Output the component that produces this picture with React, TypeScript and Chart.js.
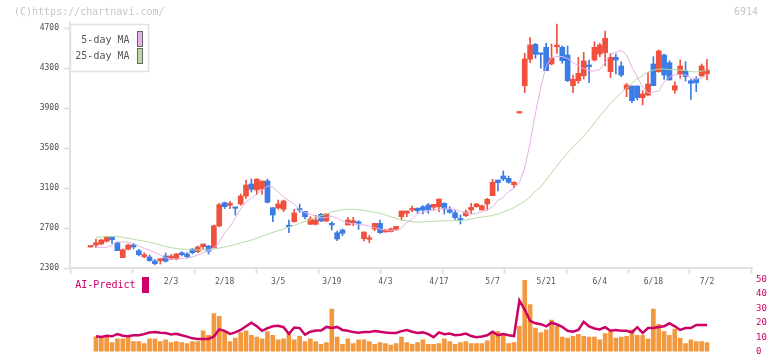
import { useEffect, useRef } from "react";
import { Chart, registerables } from "chart.js";

Chart.register(...registerables);

// Daily prices, one entry per trading day (index 0 = first session shown)
const opens = [
  2510, 2530, 2540, 2567, 2610, 2553, 2403, 2487, 2530, 2473,
  2413, 2410, 2370, 2373, 2420, 2390, 2393, 2453, 2440, 2490,
  2463, 2513, 2520, 2503, 2720, 2953, 2927, 2903, 2940, 3020,
  3140, 3080, 3090, 3170, 2903, 2900, 2887, 2720, 2763, 2893,
  2867, 2737, 2737, 2837, 2770, 2747, 2653, 2680, 2730, 2753,
  2753, 2593, 2587, 2690, 2747, 2660, 2663, 2680, 2813, 2847,
  2880, 2897, 2913, 2930, 2907, 2913, 2947, 2880, 2853, 2790,
  2823, 2880, 2913, 2880, 2940, 3023, 3180, 3220, 3197, 3133,
  3850, 4123, 4387, 4537, 4447, 4507, 4340, 4513, 4507, 4430,
  4123, 4173, 4223, 4330, 4380, 4440, 4453, 4263, 4407, 4320,
  4090, 4120, 4120, 4003, 4030, 4340, 4263, 4430, 4353, 4080,
  4240, 4273, 4173, 4187, 4220, 4240,
];
const highs = [
  2520, 2590, 2587, 2617, 2613, 2553, 2490, 2540, 2547, 2487,
  2453, 2430, 2387, 2393, 2450, 2433, 2447, 2463, 2453, 2493,
  2520, 2540, 2527, 2730, 2947, 2960, 2967, 2907, 3040, 3180,
  3190, 3190, 3170, 3190, 2903, 2980, 2980, 2780, 2887, 2940,
  2867, 2813, 2827, 2847, 2843, 2763, 2670, 2690, 2807, 2807,
  2773, 2660, 2627, 2747, 2780, 2690, 2700, 2717, 2870, 2870,
  2920, 2903, 2923, 2947, 2937, 2990, 2953, 2913, 2873, 2830,
  2880, 2947, 2947, 2930, 2997, 3187, 3180, 3270, 3220, 3163,
  3860, 4447, 4603, 4547, 4447, 4547, 4540, 4740, 4520, 4520,
  4230, 4407, 4457, 4380, 4563, 4547, 4670, 4447, 4440, 4363,
  4147, 4120, 4120, 4073, 4253, 4413, 4480, 4440, 4373, 4163,
  4380, 4363, 4187, 4213, 4340, 4387,
];
const lows = [
  2510, 2507, 2533, 2560, 2547, 2473, 2403, 2480, 2490, 2420,
  2400, 2367, 2330, 2340, 2360, 2383, 2380, 2420, 2400, 2440,
  2453, 2487, 2440, 2500, 2713, 2893, 2893, 2830, 2927, 2997,
  3060, 3033, 3037, 2950, 2763, 2887, 2863, 2653, 2757, 2857,
  2790, 2737, 2730, 2763, 2763, 2680, 2573, 2623, 2730, 2723,
  2687, 2570, 2553, 2673, 2647, 2660, 2660, 2680, 2780, 2813,
  2863, 2847, 2840, 2847, 2880, 2863, 2840, 2847, 2787, 2740,
  2813, 2840, 2907, 2880, 2880, 3023, 3070, 3173, 3147, 3103,
  3850, 4053, 4353, 4397, 4297, 4273, 4330, 4447, 4347, 4163,
  4053, 4147, 4190, 4153, 4370, 4413, 4320, 4203, 4240, 4213,
  4013, 3953, 3980, 3930, 4020, 4123, 4257, 4187, 4180, 4047,
  4197, 4170, 3987, 4063, 4220, 4180,
];
const closes = [
  2520, 2553, 2580, 2610, 2583, 2473, 2483, 2530, 2510, 2433,
  2433, 2373, 2343, 2393, 2367, 2420, 2440, 2433, 2413, 2453,
  2510, 2540, 2467, 2723, 2933, 2913, 2947, 2897, 3020, 3130,
  3087, 3190, 3170, 2957, 2830, 2940, 2970, 2713, 2850, 2880,
  2813, 2790, 2780, 2770, 2843, 2730, 2590, 2647, 2780, 2773,
  2747, 2660, 2597, 2747, 2653, 2680, 2690, 2717, 2870, 2870,
  2887, 2873, 2880, 2880, 2937, 2990, 2890, 2857, 2803, 2780,
  2860, 2907, 2940, 2923, 2987, 3157, 3153, 3190, 3157, 3157,
  3860, 4390, 4530, 4437, 4437, 4273, 4400, 4520, 4373, 4173,
  4187, 4247, 4370, 4313, 4507, 4530, 4597, 4407, 4380, 4230,
  4130, 3973, 4003, 4040, 4140, 4123, 4470, 4230, 4180, 4123,
  4320, 4213, 4147, 4153, 4320, 4280,
];

// Moving averages as plotted
const ma5 = [
  null,
  2507, 2507, 2507, 2530, 2563, 2560, 2557, 2545, 2520, 2497,
  2477, 2457, 2427, 2403, 2393, 2390, 2393, 2400, 2410, 2430,
  2453, 2470, 2500, 2560, 2650, 2713, 2800, 2890, 2960, 3000,
  3040, 3080, 3120, 3110, 3060, 3010, 2975, 2940, 2880, 2855,
  2840, 2815, 2800, 2805, 2815, 2800, 2770, 2750, 2740, 2735,
  2730, 2720, 2705, 2690, 2680, 2673, 2680, 2700, 2755, 2790,
  2840, 2860, 2875, 2880, 2885, 2900, 2895, 2885, 2865, 2850,
  2840, 2845, 2860, 2880, 2913, 2975, 3010, 3063, 3100, 3155,
  3300, 3550, 3850, 4110, 4320, 4405, 4415, 4415, 4395, 4355,
  4320, 4295, 4275, 4270, 4285, 4353, 4440, 4455, 4475, 4430,
  4310, 4210, 4110, 4050, 4060, 4070, 4160, 4210, 4235, 4230,
  4230, 4200, 4190, 4200, 4230,
];
const ma25 = [
  null,
  2607, 2610, 2613, 2615, 2617, 2607, 2597, 2587, 2577, 2568,
  2558, 2545, 2530, 2513, 2503, 2495, 2490, 2486, 2482, 2480,
  2480, 2482, 2490, 2500, 2510, 2522, 2535, 2550, 2565, 2580,
  2597, 2620, 2637, 2655, 2673, 2690, 2710, 2727, 2747, 2767,
  2783, 2805, 2823, 2840, 2860, 2873, 2882, 2887, 2887, 2882,
  2875, 2866, 2857, 2847, 2830, 2813, 2797, 2780, 2770, 2763,
  2760, 2762, 2765, 2767, 2770, 2772, 2773, 2773, 2773, 2780,
  2790, 2800, 2810, 2817, 2825, 2840, 2860, 2880, 2905, 2935,
  2970, 3010, 3070, 3110, 3180, 3250, 3320, 3390, 3450, 3510,
  3560, 3620, 3680, 3750, 3820, 3880, 3950, 4000, 4050, 4100,
  4150, 4190, 4225, 4260, 4280, 4290, 4290, 4285, 4283, 4280,
  4275, 4265, 4260, 4270, 4275,
];

// Lower panel: traded volume and AI-Predict score (0-50 scale)
const volumes = [
  null,
  10.2, 9.6, 10.4, 6.3, 8.8, 8.8, 10.0, 6.9, 6.9, 5.6,
  8.8, 8.8, 6.9, 8.1, 6.3, 6.9, 6.3, 5.6, 6.9, 6.9,
  14.4, 11.3, 26.3, 24.4, 13.8, 6.9, 9.4, 13.1, 14.4, 11.3,
  10.0, 8.8, 13.8, 11.3, 8.1, 8.8, 12.5, 8.1, 10.6, 6.9,
  8.8, 6.9, 5.0, 6.3, 29.4, 10.0, 5.0, 8.8, 5.6, 8.1,
  8.1, 6.9, 5.0, 6.3, 5.6, 4.6, 5.6, 10.0, 6.3, 5.0,
  6.3, 8.1, 5.0, 5.0, 5.6, 8.8, 6.9, 5.0, 6.3, 6.9,
  5.6, 5.6, 5.6, 7.5, 13.3, 13.8, 11.3, 5.6, 6.3, 17.5,
  49.4, 32.5, 16.3, 13.1, 15.0, 21.9, 17.5, 10.0, 9.4, 10.6,
  11.9, 10.6, 10.0, 10.0, 8.1, 12.5, 13.8, 9.4, 10.0, 10.6,
  15.0, 11.3, 11.3, 8.8, 29.4, 18.8, 13.8, 11.3, 15.6, 9.4,
  5.6, 8.1, 6.9, 6.9, 6.3,
];
const aiPredict = [
  null,
  10.6, 10.2, 11.0, 10.6, 12.1, 11.0, 10.6, 11.3, 11.3, 12.1,
  13.3, 13.5, 13.1, 12.9, 11.9, 12.3, 11.3, 10.4, 9.2, 8.8,
  8.8, 8.8, 10.4, 15.4, 14.4, 12.3, 13.3, 15.0, 17.5, 20.0,
  17.5, 14.4, 16.3, 17.5, 17.9, 16.9, 12.3, 16.7, 16.3, 11.7,
  13.8, 14.6, 14.6, 17.1, 16.3, 17.1, 15.0, 14.4, 13.5, 13.1,
  13.5, 13.5, 14.2, 13.8, 13.3, 12.9, 12.9, 14.2, 15.0, 13.8,
  12.9, 13.3, 12.1, 10.0, 13.3, 12.1, 12.5, 11.3, 11.7, 12.5,
  10.8, 10.0, 10.4, 11.3, 13.8, 11.3, 12.1, 11.3, 10.8, 35.4,
  29.0, 21.3, 19.6, 19.0, 17.5, 20.0, 18.8, 17.1, 14.4, 13.8,
  15.0, 20.6, 17.5, 16.0, 15.4, 16.9, 14.4, 15.0, 14.4, 14.4,
  13.3, 16.9, 12.9, 16.3, 16.3, 17.1, 17.5, 19.6, 17.5, 15.0,
  16.3, 16.3, 18.5, 18.5, 18.5,
];

// Axis labelling
const dateLabels = ["2/3", "2/18", "3/5", "3/19", "4/3", "4/17", "5/7", "5/21", "6/4", "6/18", "7/2"];
const dateLabelIndex = [15, 25, 35, 45, 55, 65, 75, 85, 95, 105, 115];
const priceTicks = [2300, 2700, 3100, 3500, 3900, 4300, 4700];
const aiTicks = [0, 10, 20, 30, 40, 50];

const X_MIN = -3.843;
const X_MAX = 123.4;
const PRICE_MIN = 2300;
const PRICE_MAX = 4750;

const UP = "#f0503c";
const DOWN = "#3c7ce6";
const MA5_COLOR = "#e6b0e8";
const MA25_COLOR = "#b4dba4";
const AI_COLOR = "#cc0066";
const VOL_COLOR = "#f2983f";
const AXIS_COLOR = "#e2e2e2";
const MONO = "'DejaVu Sans Mono', monospace";

const points = (arr: (number | null)[]) =>
  arr.map((v, i) => ({ x: i, y: v })).filter((p) => p.y !== null);

const overlayMain = {
  id: "overlayMain",
  afterDraw(chart: any) {
    const ctx = chart.ctx;
    ctx.save();
    ctx.font = `10px ${MONO}`;
    ctx.textBaseline = "middle";
    ctx.fillStyle = "#c6c6c6";
    ctx.textAlign = "left";
    ctx.fillText("(C)https://chartnavi.com/", 14, 12);
    ctx.textAlign = "right";
    ctx.fillText("6914", 758, 12);

    // legend box
    ctx.fillStyle = "#ffffff";
    ctx.fillRect(70, 24, 78, 47);
    ctx.strokeStyle = AXIS_COLOR;
    ctx.lineWidth = 1.5;
    ctx.strokeRect(70.5, 24.5, 78, 47);

    ctx.fillStyle = "#555555";
    ctx.textAlign = "right";
    ctx.fillText("5-day MA", 129.5, 40.5);
    ctx.fillText("25-day MA", 129.5, 56.5);

    ctx.lineWidth = 1;
    ctx.strokeStyle = "#666666";
    ctx.fillStyle = MA5_COLOR;
    ctx.fillRect(137.5, 31.5, 5, 15);
    ctx.strokeRect(137.5, 31.5, 5, 15);
    ctx.fillStyle = MA25_COLOR;
    ctx.fillRect(137.5, 48.5, 5, 15);
    ctx.strokeRect(137.5, 48.5, 5, 15);
    ctx.restore();
  },
};

const overlaySub = {
  id: "overlaySub",
  afterDraw(chart: any) {
    const ctx = chart.ctx;
    ctx.save();
    ctx.font = `10px ${MONO}`;
    ctx.textBaseline = "middle";
    ctx.textAlign = "right";
    ctx.fillStyle = AI_COLOR;
    ctx.fillText("AI-Predict", 135.5, 15);
    ctx.fillRect(142, 7, 7, 16);
    ctx.restore();
  },
};

export default function App() {
  const mainRef = useRef<HTMLCanvasElement>(null);
  const subRef = useRef<HTMLCanvasElement>(null);

  useEffect(() => {
    const idx = closes.map((_, i) => i);
    const candleColors = idx.map((i) => (closes[i] >= opens[i] ? UP : DOWN));

    const main = new Chart(mainRef.current as HTMLCanvasElement, {
      type: "bar",
      data: {
        datasets: [
          {
            type: "line",
            label: "5-day MA",
            data: points(ma5),
            borderColor: MA5_COLOR,
            borderWidth: 1,
            pointRadius: 0,
            tension: 0,
            order: 0,
          } as any,
          {
            type: "line",
            label: "25-day MA",
            data: points(ma25),
            borderColor: MA25_COLOR,
            borderWidth: 1,
            pointRadius: 0,
            tension: 0,
            order: 0,
          } as any,
          {
            type: "bar",
            label: "body",
            data: idx.map((i) => ({ x: i, y: [opens[i], closes[i]] })),
            backgroundColor: candleColors,
            barThickness: 5,
            minBarLength: 1.5,
            grouped: false,
            borderWidth: 0,
            order: 1,
          } as any,
          {
            type: "bar",
            label: "wick",
            data: idx.map((i) => ({ x: i, y: [lows[i], highs[i]] })),
            backgroundColor: candleColors,
            barThickness: 1,
            grouped: false,
            borderWidth: 0,
            order: 2,
          } as any,
        ],
      },
      options: {
        responsive: false,
        animation: false,
        devicePixelRatio: 1,
        layout: { padding: { left: 0, right: 20, top: 23, bottom: 0 } },
        plugins: { legend: { display: false }, tooltip: { enabled: false } },
        scales: {
          x: {
            type: "linear",
            min: X_MIN,
            max: X_MAX,
            offset: false,
            afterBuildTicks: (scale: any) => {
              const step = (X_MAX - X_MIN) / 11;
              const marks = Array.from({ length: 12 }, (_, k) => ({ value: X_MIN + k * step }));
              const labelled = dateLabelIndex.map((v) => ({ value: v }));
              scale.ticks = [...marks, ...labelled].sort((a, b) => a.value - b.value);
            },
            afterFit: (scale: any) => {
              scale.height = 32;
            },
            grid: {
              offset: false,
              drawOnChartArea: false,
              drawTicks: true,
              tickLength: 6,
              tickWidth: 2,
              tickColor: (c: any) =>
                c.tick && dateLabelIndex.includes(c.tick.value) ? "rgba(0,0,0,0)" : AXIS_COLOR,
            },
            border: { color: AXIS_COLOR, width: 2 },
            ticks: {
              autoSkip: false,
              maxRotation: 0,
              minRotation: 0,
              padding: 3,
              color: "#555555",
              font: { family: MONO, size: 8 },
              callback: (value: any) => {
                const k = dateLabelIndex.indexOf(value);
                return k >= 0 ? dateLabels[k] : "";
              },
            },
          },
          y: {
            type: "linear",
            min: PRICE_MIN,
            max: PRICE_MAX,
            beginAtZero: false,
            afterBuildTicks: (scale: any) => {
              scale.ticks = priceTicks.map((v) => ({ value: v }));
            },
            afterFit: (scale: any) => {
              scale.width = 70;
            },
            grid: {
              drawOnChartArea: false,
              drawTicks: true,
              tickLength: 6,
              tickWidth: 2,
              tickColor: AXIS_COLOR,
            },
            border: { color: AXIS_COLOR, width: 2 },
            ticks: {
              padding: 5,
              color: "#4a4a4a",
              font: { family: MONO, size: 8 },
              callback: (value: any) => String(value),
            },
          },
        },
      },
      plugins: [overlayMain],
    } as any);

    const sub = new Chart(subRef.current as HTMLCanvasElement, {
      type: "bar",
      data: {
        datasets: [
          {
            type: "line",
            label: "AI-Predict",
            data: points(aiPredict),
            borderColor: AI_COLOR,
            borderWidth: 2.5,
            pointRadius: 0,
            tension: 0,
            order: 0,
          } as any,
          {
            type: "bar",
            label: "volume",
            data: points(volumes),
            backgroundColor: VOL_COLOR,
            barThickness: 4,
            grouped: false,
            borderWidth: 0,
            order: 1,
          } as any,
        ],
      },
      options: {
        responsive: false,
        animation: false,
        devicePixelRatio: 1,
        layout: { padding: { left: 70, right: 0, top: 8, bottom: 3 } },
        plugins: { legend: { display: false }, tooltip: { enabled: false } },
        scales: {
          x: {
            type: "linear",
            min: X_MIN,
            max: X_MAX,
            offset: false,
            display: false,
            grid: { offset: false },
          },
          y: {
            type: "linear",
            position: "right",
            min: 0,
            max: 50,
            afterBuildTicks: (scale: any) => {
              scale.ticks = aiTicks.map((v) => ({ value: v }));
            },
            afterFit: (scale: any) => {
              scale.width = 20;
            },
            grid: { display: false, drawTicks: false, tickLength: 0 },
            border: { display: false },
            ticks: {
              padding: 4,
              color: AI_COLOR,
              font: { family: MONO, size: 9 },
              callback: (value: any) => String(value),
            },
          },
        },
      },
      plugins: [overlaySub],
    } as any);

    return () => {
      main.destroy();
      sub.destroy();
    };
  }, []);

  return (
    <div
      style={{
        position: "fixed",
        left: 0,
        top: 0,
        width: 772,
        height: 361,
        background: "#ffffff",
        overflow: "hidden",
      }}
    >
      <canvas
        ref={mainRef}
        width={772}
        height={300}
        style={{ position: "absolute", left: 0, top: 0 }}
      />
      <canvas
        ref={subRef}
        width={772}
        height={91}
        style={{ position: "absolute", left: 0, top: 270 }}
      />
    </div>
  );
}
